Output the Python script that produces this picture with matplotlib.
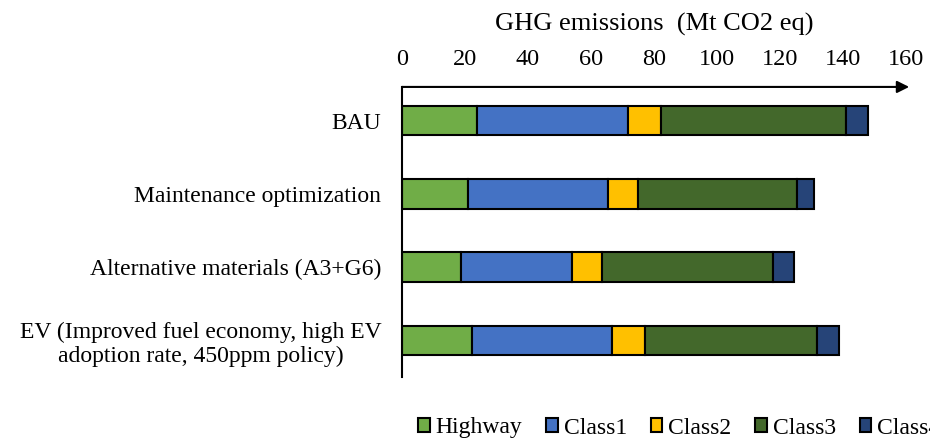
import matplotlib.pyplot as plt

plt.rcParams['font.family'] = ['Liberation Serif', 'DejaVu Serif']

scenarios = ['BAU', 'Maintenance optimization', 'Alternative materials (A3+G6)',
             'EV (Improved fuel economy, high EV\nadoption rate, 450ppm policy)']
classes = ['Highway', 'Class1', 'Class2', 'Class3', 'Class4']
highway = [23.7, 20.9, 18.7, 22.1]
class1 = [47.9, 44.6, 35.3, 44.7]
class2 = [10.6, 9.3, 9.5, 10.2]
class3 = [58.6, 50.6, 54.3, 54.9]
class4 = [7.1, 5.5, 6.5, 6.7]
colors = ['#70AD47', '#4472C4', '#FFC000', '#43682B', '#264478']

fig = plt.figure(figsize=(9.3, 4.41), dpi=100)
ax = fig.add_axes([402 / 930, 1 - 377 / 441, 504 / 930, 293 / 441])

y = list(range(len(scenarios)))
left = [0] * len(scenarios)
for name, vals, col in zip(classes, [highway, class1, class2, class3, class4], colors):
    ax.barh(y, vals, left=left, height=0.4, color=col, edgecolor='black',
            linewidth=1.5, label=name)
    left = [a + b for a, b in zip(left, vals)]

ax.set_xlim(0, 160)
ax.set_ylim(3.5, -0.5)
ax.set_xticks(range(0, 161, 20))
ax.xaxis.tick_top()
ax.tick_params(axis='x', length=0, labelsize=17.5, pad=10)
ax.tick_params(axis='y', length=0, labelsize=17, pad=15)
ax.set_yticks(y)
ax.set_yticklabels(scenarios, multialignment='center')
ax.set_xlabel('GHG emissions  (Mt CO2 eq)', fontsize=19, labelpad=13)
ax.xaxis.set_label_position('top')

for s in ['right', 'bottom', 'top']:
    ax.spines[s].set_visible(False)
ax.spines['left'].set_linewidth(1.5)
ax.spines['left'].set_bounds(3.5, -0.46)

# top axis line with arrow head
ax.annotate('', xy=(161, -0.46), xytext=(0, -0.46), xycoords='data',
            arrowprops=dict(arrowstyle='-|>', color='black', lw=1.5,
                            mutation_scale=18, shrinkA=0, shrinkB=0),
            annotation_clip=False)

fig.legend(loc='center left', bbox_to_anchor=(418 / 930, 1 - 428 / 441), ncol=5,
           frameon=False, fontsize=17, handlelength=0.5, handleheight=0.5,
           handletextpad=0.25, columnspacing=1.0, borderaxespad=0,
           borderpad=0)

fig.savefig('out.png', dpi=100)
